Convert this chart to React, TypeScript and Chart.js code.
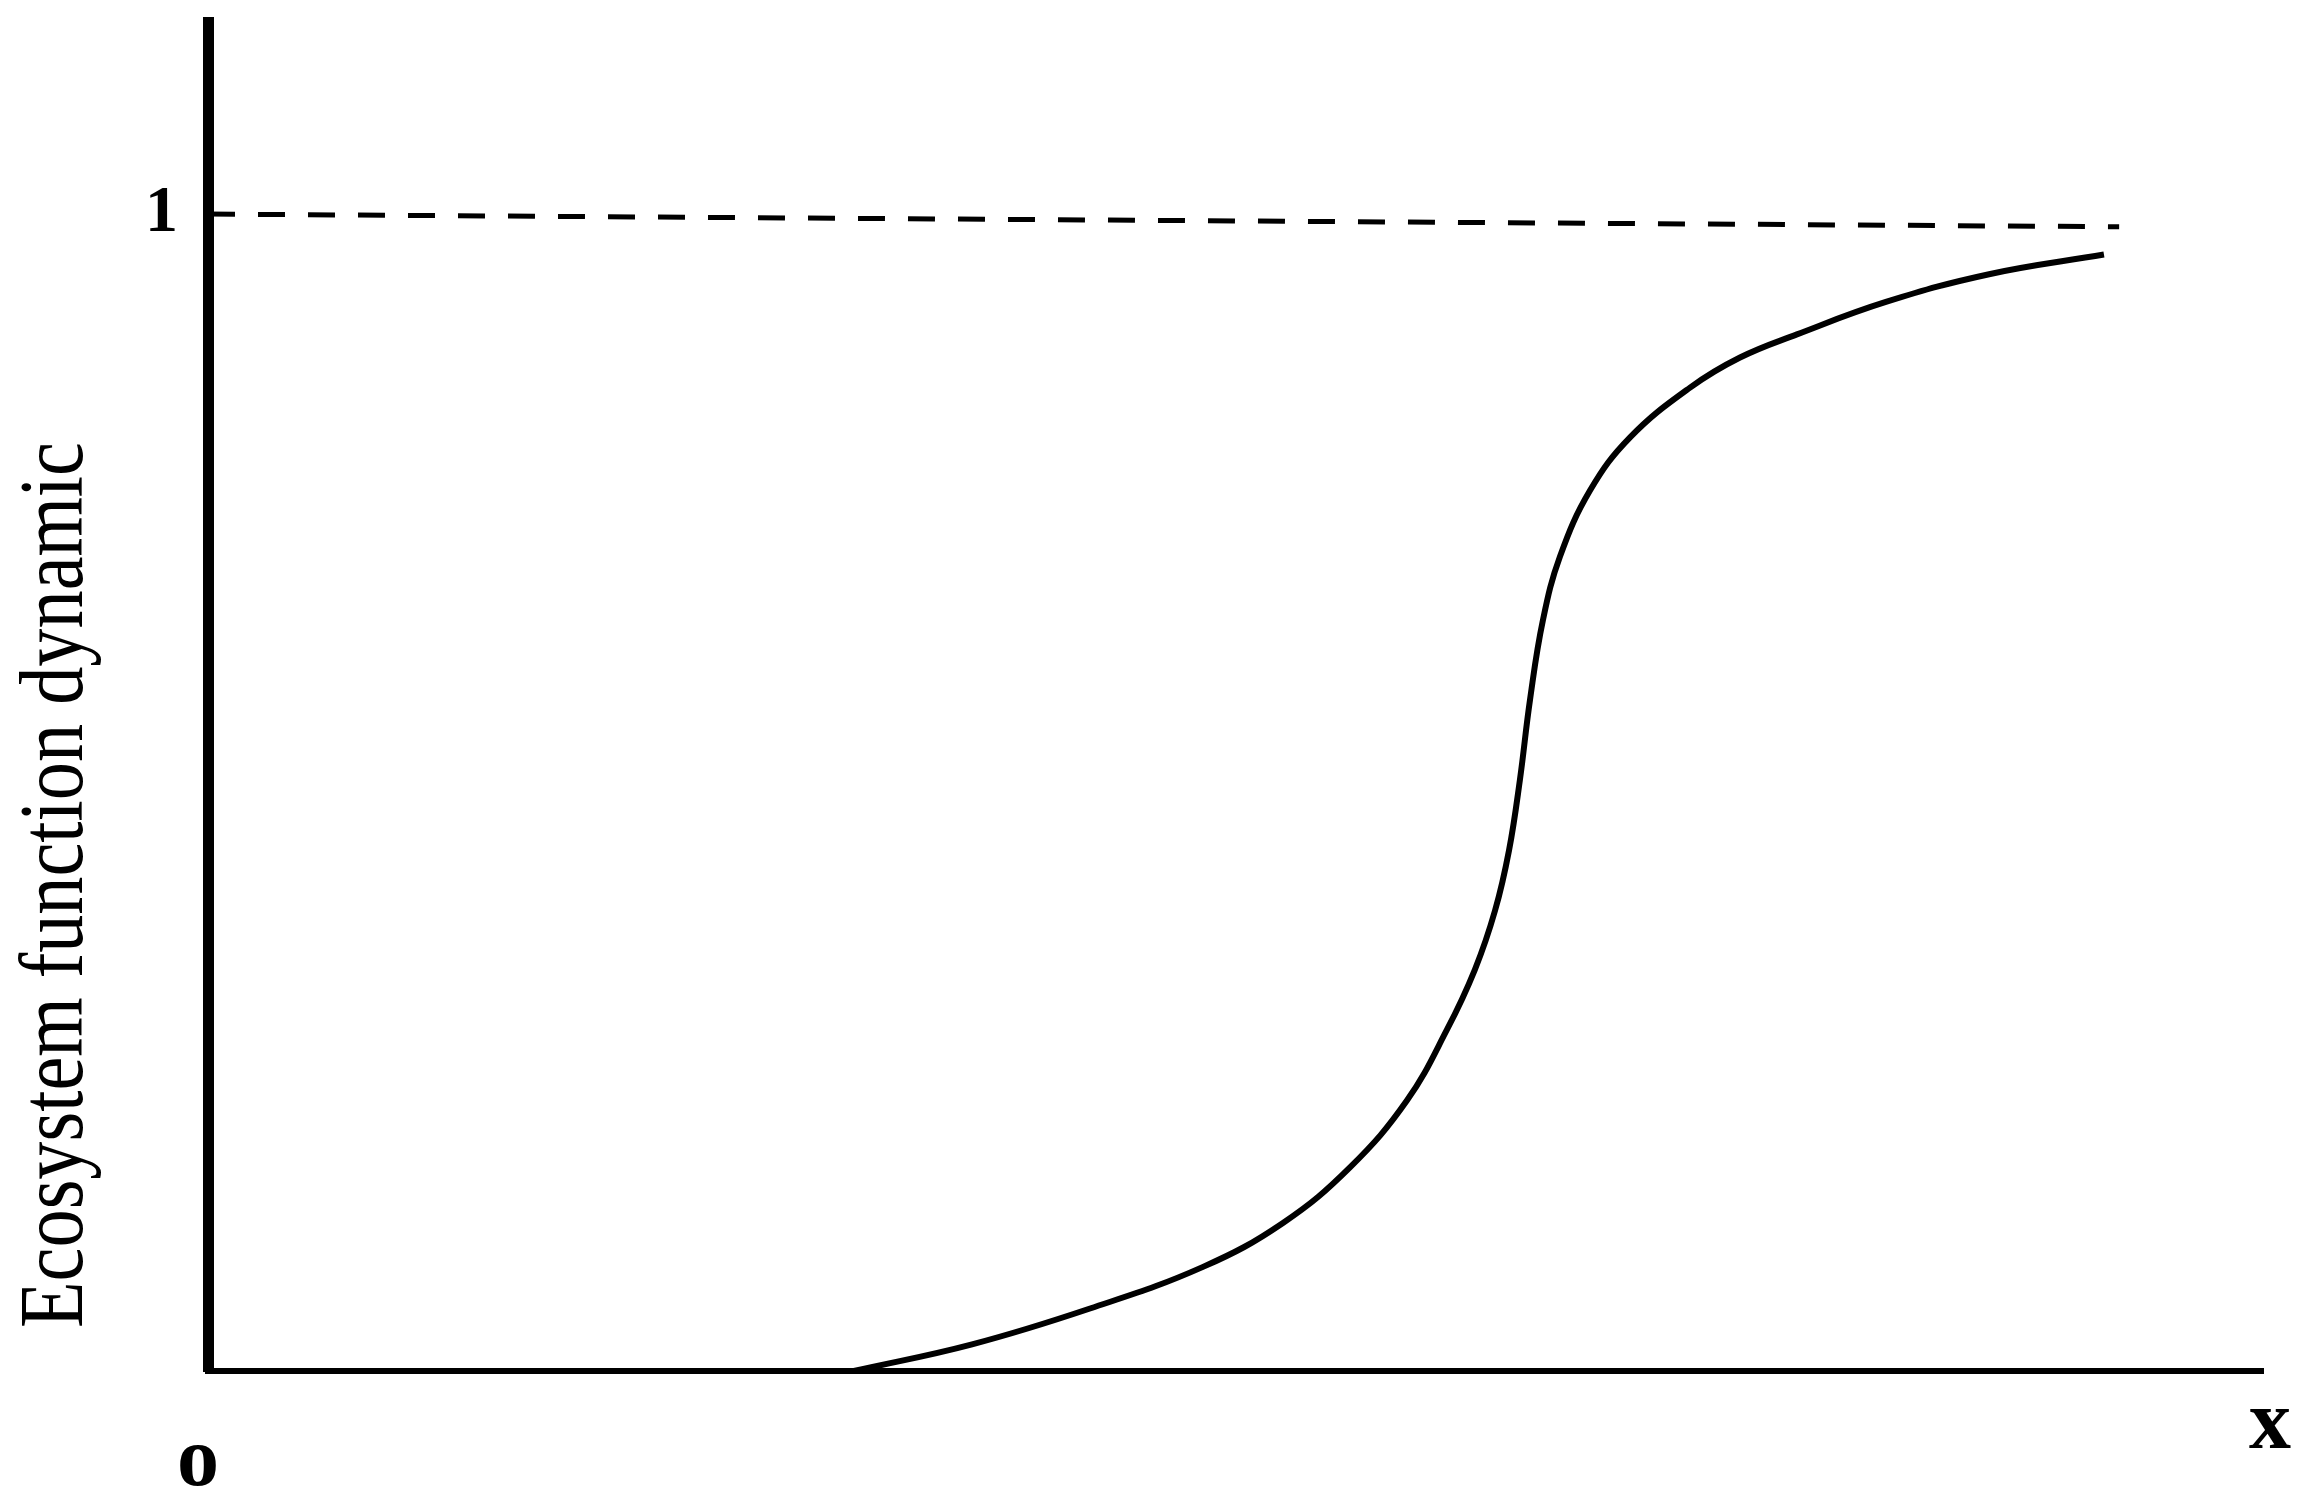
import { useEffect, useRef } from 'react';
import { Chart, registerables } from 'chart.js';

Chart.register(...registerables);

// S-shaped response curve (x in arbitrary units, y as fraction of maximum)
const curveX = [3.143, 3.718, 4.292, 4.842, 5.231, 5.557, 5.835, 6.029, 6.165, 6.263, 6.331, 6.384, 6.433, 6.496, 6.579, 6.725, 6.92, 7.212, 7.455, 7.732, 8.165, 8.667, 9.226];
const curveY = [0, 0.023, 0.054, 0.09, 0.128, 0.176, 0.234, 0.295, 0.347, 0.398, 0.45, 0.511, 0.58, 0.649, 0.704, 0.761, 0.807, 0.85, 0.876, 0.896, 0.924, 0.948, 0.965];

// dashed asymptote at 1 (drawn slightly sloping in the original)
const asymptoteX = [0, 9.3];
const asymptoteY = [1, 0.989];

const yTickValues = [1];
const yTickLabels = ['1'];
const xEndValues = [0, 10];
const xEndLabels = ['o', 'x'];
const yTitle = 'Ecosystem function dynamic';

const X_MIN = 0;
const X_MAX = 10;
const Y_MIN = 0;
const Y_MAX = 1.166;

const annotationPlugin = {
  id: 'figureText',
  afterDraw(chart: any) {
    const ctx = chart.ctx as CanvasRenderingContext2D;
    const xs = chart.scales.x;
    const ys = chart.scales.y;
    const base = ys.getPixelForValue(0);
    ctx.save();
    ctx.fillStyle = '#000';
    ctx.textAlign = 'center';
    ctx.textBaseline = 'alphabetic';
    ctx.font = 'bold 84px "Liberation Serif"';
    ctx.fillText(xEndLabels[0], xs.getPixelForValue(xEndValues[0]) - 10, base + 114);
    ctx.fillText(xEndLabels[1], xs.getPixelForValue(xEndValues[1]) + 7, base + 77);

    ctx.translate(82, base - 43);
    ctx.rotate(-Math.PI / 2);
    ctx.scale(0.848, 1);
    ctx.textAlign = 'left';
    ctx.font = '90px "Liberation Serif"';
    ctx.fillText(yTitle, 0, 0);
    ctx.restore();
  },
};

export default function App() {
  const canvasRef = useRef<HTMLCanvasElement | null>(null);

  useEffect(() => {
    if (!canvasRef.current) return;
    const chart = new Chart(canvasRef.current, {
      type: 'line',
      data: {
        datasets: [
          {
            label: 'curve',
            data: curveX.map((x, i) => ({ x, y: curveY[i] })),
            borderColor: '#000',
            borderWidth: 6,
            pointRadius: 0,
            fill: false,
            tension: 0.4,
          },
          {
            label: 'asymptote',
            data: asymptoteX.map((x, i) => ({ x, y: asymptoteY[i] })),
            borderColor: '#000',
            borderWidth: 5,
            borderDash: [27, 23],
            borderCapStyle: 'butt',
            pointRadius: 0,
            fill: false,
          },
        ],
      },
      options: {
        animation: false,
        responsive: true,
        maintainAspectRatio: false,
        devicePixelRatio: 1,
        layout: { padding: { left: 0, right: 47, top: 22, bottom: 0 } },
        plugins: {
          legend: { display: false },
          tooltip: { enabled: false },
        },
        scales: {
          x: {
            type: 'linear',
            min: X_MIN,
            max: X_MAX,
            grid: { display: true, drawOnChartArea: false, drawTicks: false },
            border: { display: true, color: '#000', width: 6 },
            ticks: { display: false },
            afterFit: (scale: any) => {
              scale.height = 131;
              scale.paddingLeft = 0;
              scale.paddingRight = 0;
            },
          },
          y: {
            type: 'linear',
            min: Y_MIN,
            max: Y_MAX,
            grid: { display: true, drawOnChartArea: false, drawTicks: false },
            border: { display: true, color: '#000', width: 11 },
            afterBuildTicks: (scale: any) => {
              scale.ticks = yTickValues.map((v) => ({ value: v }));
            },
            ticks: {
              color: '#000',
              padding: 30,
              font: { family: 'Liberation Serif', size: 66, weight: 'bold' },
              callback: (_v: any, i: number) => yTickLabels[i],
            },
            afterFit: (scale: any) => {
              scale.width = 208;
              scale.paddingTop = 0;
              scale.paddingBottom = 0;
            },
          },
        },
      } as any,
      plugins: [annotationPlugin],
    });
    return () => chart.destroy();
  }, []);

  return (
    <div style={{ position: 'absolute', left: 0, top: 0, width: 2310, height: 1502, background: '#fff' }}>
      <canvas ref={canvasRef} />
    </div>
  );
}
